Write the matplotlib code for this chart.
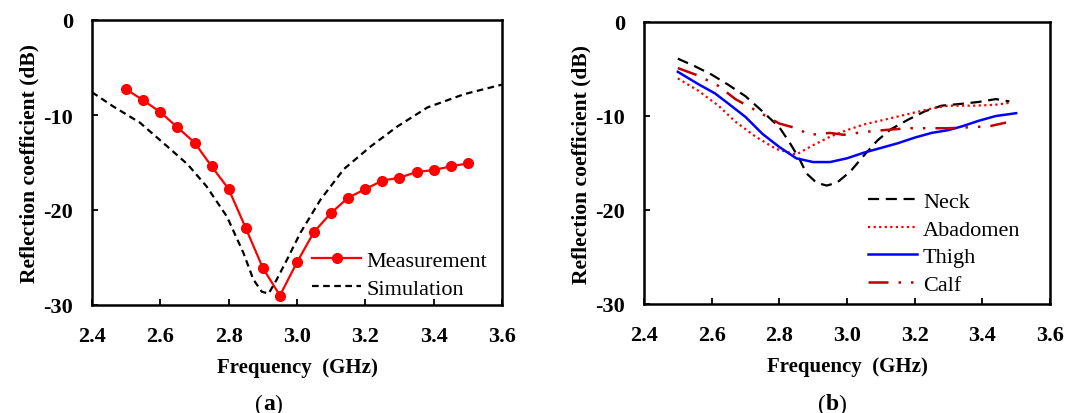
import matplotlib
matplotlib.use("Agg")
import matplotlib.pyplot as plt
import numpy as np

plt.rcParams['font.family'] = ['Liberation Serif', 'DejaVu Serif']
plt.rcParams['axes.unicode_minus'] = False

# (a) measured vs simulated reflection coefficient
meas_f = [2.50, 2.55, 2.60, 2.65, 2.70, 2.75, 2.80, 2.85, 2.90, 2.95, 3.00,
          3.05, 3.10, 3.15, 3.20, 3.25, 3.30, 3.35, 3.40, 3.45, 3.50]
meas_db = [-7.3, -8.45, -9.7, -11.3, -12.9, -15.4, -17.8, -21.9, -26.1, -29.0, -25.5,
           -22.3, -20.3, -18.7, -17.8, -16.9, -16.6, -16.0, -15.8, -15.4, -15.1]

sim_f = [2.40, 2.46, 2.54, 2.62, 2.68, 2.735, 2.795, 2.843, 2.872, 2.897, 2.917,
         2.941, 2.971, 3.010, 3.069, 3.137, 3.216, 3.294, 3.382, 3.490, 3.60]
sim_db = [-7.6, -9.05, -10.8, -13.3, -15.2, -17.5, -20.7, -24.5, -27.3, -28.6, -28.8,
          -27.3, -25.2, -22.4, -18.9, -15.7, -13.3, -11.2, -9.2, -7.8, -6.8]

# (b) different body locations
body_f = [2.50, 2.55, 2.60, 2.65, 2.70, 2.75, 2.80, 2.83, 2.86, 2.88, 2.91, 2.94,
          2.97, 3.01, 3.05, 3.09, 3.13, 3.18, 3.23, 3.28, 3.34, 3.39, 3.44, 3.48]
neck_db = [-3.9, -4.7, -5.6, -6.7, -7.9, -9.5, -11.2, -12.8, -14.6, -16.1, -17.1, -17.4,
           -17.1, -15.9, -14.2, -12.6, -11.4, -10.4, -9.5, -8.9, -8.7, -8.5, -8.2, -8.45]

abd_f = [2.50, 2.56, 2.62, 2.67, 2.73, 2.79, 2.85, 2.90, 2.95, 3.00, 3.05, 3.11,
         3.18, 3.25, 3.30, 3.38, 3.44, 3.48]
abd_db = [-6.0, -7.3, -8.9, -10.6, -12.2, -13.5, -14.1, -13.1, -12.2, -11.5, -10.9, -10.4,
          -9.8, -9.2, -8.9, -8.9, -8.8, -8.6]

thigh_f = [2.50, 2.56, 2.61, 2.65, 2.70, 2.75, 2.80, 2.85, 2.90, 2.95, 3.00, 3.05,
           3.10, 3.15, 3.20, 3.25, 3.30, 3.34, 3.39, 3.44, 3.50]
thigh_db = [-5.3, -6.6, -7.6, -8.7, -10.1, -11.9, -13.3, -14.5, -14.9, -14.9, -14.5, -13.9,
            -13.4, -12.9, -12.3, -11.8, -11.5, -11.1, -10.5, -10.0, -9.7]

calf_f = [2.50, 2.56, 2.62, 2.67, 2.73, 2.80, 2.85, 2.89, 2.95, 2.99, 3.05, 3.11,
          3.18, 3.25, 3.30, 3.36, 3.42, 3.47]
calf_db = [-4.9, -5.7, -6.8, -8.2, -9.4, -10.8, -11.3, -12.0, -11.8, -12.0, -11.7, -11.5,
           -11.3, -11.3, -11.3, -11.2, -11.1, -10.7]

xticks = [2.4, 2.6, 2.8, 3.0, 3.2, 3.4, 3.6]
yticks = [0, -10, -20, -30]

fig = plt.figure(figsize=(10.67, 4.14), dpi=100)
ax1 = fig.add_axes([92 / 1067, 1 - 306 / 414, 410 / 1067, 285 / 414])
ax2 = fig.add_axes([644 / 1067, 1 - 305 / 414, 406 / 1067, 282 / 414])


def style(ax):
    ax.set_xlim(2.4, 3.6)
    ax.set_ylim(-30, 0)
    ax.set_xticks(xticks)
    ax.set_xticklabels([f"{t:.1f}" for t in xticks])
    ax.set_yticks(yticks)
    ax.set_yticklabels([str(t) for t in yticks])
    ax.tick_params(direction='in', length=4, width=1.3, labelsize=16)
    ax.tick_params(axis='x', pad=15)
    ax.tick_params(axis='y', pad=13.5)
    for lab in ax.get_xticklabels() + ax.get_yticklabels():
        lab.set_fontweight('bold')
    for sp in ax.spines.values():
        sp.set_linewidth(1.8)
    ax.set_xlabel("Frequency  (GHz)", fontsize=15, fontweight='bold', labelpad=8)
    ax.set_ylabel("Reflection coefficient (dB)", fontsize=15.5, fontweight='bold', labelpad=3)


ax1.plot(meas_f, meas_db, color='#FF0000', lw=1.6, marker='o', ms=7, label='Measurement')
ax1.plot(sim_f, sim_db, color='black', lw=1.6, ls=(0, (3, 2)), label='Simulation')
style(ax1)
ax1.legend(loc='lower right', bbox_to_anchor=(1.0, -0.03), frameon=False, fontsize=16,
           handlelength=2.2, handletextpad=0.25, labelspacing=0.35, borderaxespad=0.25)

ax2.plot(body_f, neck_db, color='black', lw=1.6, ls=(0, (5, 3)), label='Neck')
ax2.plot(abd_f, abd_db, color='#FF0000', lw=1.6, ls=(0, (1, 1.5)), label='Abadomen')
ax2.plot(thigh_f, thigh_db, color='#0000FF', lw=1.8, label='Thigh')
ax2.plot(calf_f, calf_db, color='#C00000', lw=1.8, ls=(0, (8, 4, 1, 4, 1, 4)), label='Calf')
style(ax2)
ax2.legend(loc='lower right', bbox_to_anchor=(0.96, -0.015), frameon=False, fontsize=16,
           handlelength=2.2, handletextpad=0.25, labelspacing=0.32, borderaxespad=0.2)

cap_y = 1 - 405 / 414
fig.text(263 / 1067, cap_y, "(", fontsize=17, ha='right', va='center')
fig.text(263 / 1067, cap_y, "a", fontsize=17, fontweight='bold', ha='left', va='center')
fig.text(274 / 1067, cap_y, ")", fontsize=17, ha='left', va='center')
fig.text(826 / 1067, cap_y, "(", fontsize=17, ha='right', va='center')
fig.text(826 / 1067, cap_y, "b", fontsize=17, fontweight='bold', ha='left', va='center')
fig.text(838 / 1067, cap_y, ")", fontsize=17, ha='left', va='center')

fig.savefig("out.png", dpi=100)
